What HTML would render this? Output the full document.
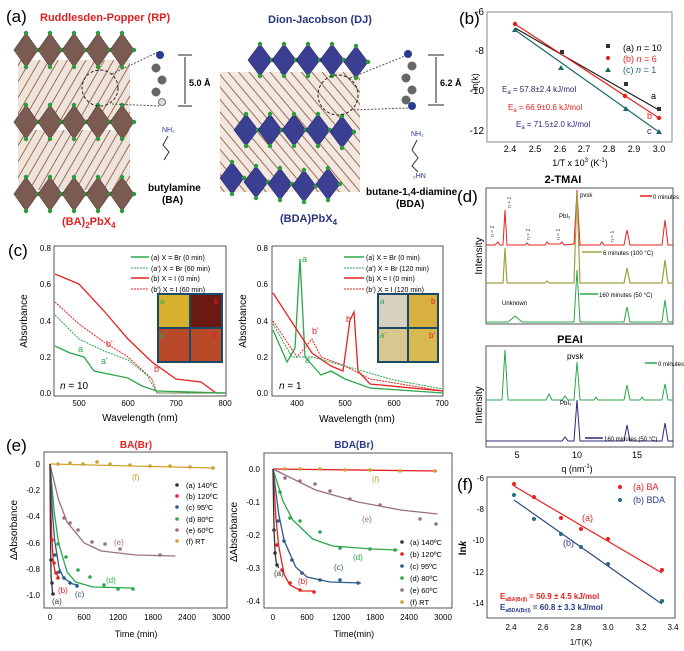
<!DOCTYPE html>
<html><head><meta charset="utf-8"><style>
body{margin:0;background:#fff}
svg{display:block;font-family:"Liberation Sans",sans-serif}
.t{font-size:10px}
</style></head><body>
<svg width="684" height="651" viewBox="0 0 684 651" xmlns="http://www.w3.org/2000/svg">
<defs>
<pattern id="org" width="8" height="8" patternUnits="userSpaceOnUse" patternTransform="rotate(30)">
<rect width="8" height="8" fill="#efe4dc"/><line x1="0" y1="0" x2="0" y2="8" stroke="#9a6e55" stroke-width="2"/></pattern>
<pattern id="org2" width="8" height="8" patternUnits="userSpaceOnUse" patternTransform="rotate(-40)">
<rect width="8" height="8" fill="#f2e8e0"/><line x1="0" y1="0" x2="0" y2="8" stroke="#9a6e55" stroke-width="2"/></pattern>
<g id="oc"><polygon points="0,-17 12,0 0,17 -12,0" fill="#7b5a52" stroke="#4a3630" stroke-width=".6"/><circle cx="0" cy="-17" r="2.2" fill="#2a9a3a"/><circle cx="12" cy="0" r="2.2" fill="#2a9a3a"/><circle cx="0" cy="17" r="2.2" fill="#2a9a3a"/></g>
<g id="ob"><polygon points="0,-16 12,0 0,16 -12,0" fill="#3b3f92" stroke="#22266a" stroke-width=".6"/><circle cx="0" cy="-16" r="2.2" fill="#2a9a3a"/><circle cx="12" cy="0" r="2.2" fill="#2a9a3a"/><circle cx="0" cy="16" r="2.2" fill="#2a9a3a"/></g>
</defs>

<!-- (a) -->
<text x="6" y="22" font-size="17">(a)</text>
<text x="40" y="21" font-size="11" font-weight="bold" fill="#e02020">Ruddlesden-Popper (RP)</text>
<text x="268" y="23" font-size="11" font-weight="bold" fill="#2a3580">Dion-Jacobson (DJ)</text>
<rect x="18" y="60" width="112" height="64" fill="url(#org)"/>
<rect x="18" y="130" width="112" height="60" fill="url(#org)"/>
<g>
<use href="#oc" x="26" y="50"/><use href="#oc" x="50" y="50"/><use href="#oc" x="74" y="50"/><use href="#oc" x="98" y="50"/><use href="#oc" x="122" y="50"/>
<use href="#oc" x="26" y="122"/><use href="#oc" x="50" y="122"/><use href="#oc" x="74" y="122"/><use href="#oc" x="98" y="122"/><use href="#oc" x="122" y="122"/>
<use href="#oc" x="26" y="194"/><use href="#oc" x="50" y="194"/><use href="#oc" x="74" y="194"/><use href="#oc" x="98" y="194"/><use href="#oc" x="122" y="194"/>
</g>
<circle cx="100" cy="88" r="18" fill="none" stroke="#222" stroke-dasharray="3,2"/>
<line x1="112" y1="74" x2="158" y2="52" stroke="#555" stroke-dasharray="2,1.5"/>
<line x1="112" y1="104" x2="160" y2="106" stroke="#555" stroke-dasharray="2,1.5"/>
<g fill="#666"><circle cx="160" cy="55" r="4" fill="#2a3a90"/><circle cx="156" cy="68" r="4.5"/><circle cx="162" cy="80" r="4.5"/><circle cx="156" cy="92" r="4.5"/><circle cx="162" cy="102" r="3.5" fill="#ddd" stroke="#777"/></g>
<line x1="178" y1="55" x2="192" y2="55" stroke="#222"/><line x1="178" y1="106" x2="192" y2="106" stroke="#222"/><line x1="185" y1="57" x2="185" y2="104" stroke="#222"/>
<text x="189" y="86" font-size="9" font-weight="bold">5.0 Å</text>
<text x="162" y="132" font-size="7" fill="#2a3a90">NH₂</text>
<polyline points="168,136 163,145 169,152 164,160" fill="none" stroke="#333"/>
<text x="148" y="191" font-size="10" font-weight="bold">butylamine</text>
<text x="162" y="203" font-size="10" font-weight="bold">(BA)</text>
<text x="62" y="225" font-size="11" font-weight="bold" fill="#e02020">(BA)<tspan font-size="8" dy="3">2</tspan><tspan dy="-3">PbX</tspan><tspan font-size="8" dy="3">4</tspan></text>

<g>
<rect x="220" y="72" width="140" height="120" fill="url(#org2)"/>
<use href="#ob" x="260" y="60"/><use href="#ob" x="284" y="60"/><use href="#ob" x="308" y="60"/><use href="#ob" x="332" y="60"/><use href="#ob" x="356" y="62"/>
<use href="#ob" x="246" y="130"/><use href="#ob" x="270" y="130"/><use href="#ob" x="294" y="130"/><use href="#ob" x="318" y="130"/><use href="#ob" x="342" y="132"/>
<use href="#ob" x="232" y="178"/><use href="#ob" x="256" y="182"/><use href="#ob" x="280" y="184"/><use href="#ob" x="304" y="186"/><use href="#ob" x="328" y="184"/>
</g>
<circle cx="338" cy="95" r="20" fill="none" stroke="#222" stroke-dasharray="3,2"/>
<line x1="350" y1="78" x2="405" y2="56" stroke="#555" stroke-dasharray="2,1.5"/>
<line x1="350" y1="110" x2="408" y2="108" stroke="#555" stroke-dasharray="2,1.5"/>
<g fill="#666"><circle cx="408" cy="54" r="4" fill="#2a3a90"/><circle cx="412" cy="66" r="4.5"/><circle cx="406" cy="78" r="4.5"/><circle cx="412" cy="90" r="4.5"/><circle cx="406" cy="100" r="4.5"/><circle cx="412" cy="106" r="4" fill="#2a3a90"/></g>
<line x1="428" y1="55" x2="444" y2="55" stroke="#222"/><line x1="428" y1="105" x2="444" y2="105" stroke="#222"/><line x1="436" y1="57" x2="436" y2="103" stroke="#222"/>
<text x="440" y="86" font-size="9" font-weight="bold">6.2 Å</text>
<text x="411" y="136" font-size="7" fill="#2a3a90">NH₂</text>
<polyline points="417,140 412,150 418,158 412,166 418,172" fill="none" stroke="#333"/>
<text x="413" y="178" font-size="7" fill="#2a3a90">₂HN</text>
<text x="366" y="195" font-size="10" font-weight="bold">butane-1,4-diamine</text>
<text x="396" y="207" font-size="10" font-weight="bold">(BDA)</text>
<text x="280" y="222" font-size="11" font-weight="bold" fill="#2a3580">(BDA)PbX<tspan font-size="8" dy="3">4</tspan></text>

<!-- (b) -->
<text x="459" y="24" font-size="17">(b)</text>
<rect x="487" y="12" width="185" height="130" fill="none" stroke="#888"/>
<g class="t" font-size="9" text-anchor="end"><text x="484" y="15">-6</text><text x="484" y="54">-8</text><text x="484" y="94">-10</text><text x="484" y="134">-12</text></g>
<g font-size="9" text-anchor="middle"><text x="510" y="152">2.4</text><text x="535" y="152">2.5</text><text x="560" y="152">2.6</text><text x="584" y="152">2.7</text><text x="609" y="152">2.8</text><text x="634" y="152">2.9</text><text x="659" y="152">3.0</text>
<text x="580" y="166">1/T x 10<tspan font-size="6" dy="-4">3</tspan><tspan dy="4"> (K</tspan><tspan font-size="6" dy="-4">-1</tspan><tspan dy="4">)</tspan></text></g>
<text transform="translate(478,82) rotate(-90)" font-size="9" text-anchor="middle">ln(k)</text>
<line x1="515" y1="28" x2="659" y2="110" stroke="#222" stroke-width="1.2"/>
<line x1="515" y1="24" x2="659" y2="118" stroke="#e82020" stroke-width="1.2"/>
<line x1="515" y1="30" x2="659" y2="132" stroke="#1a6a6a" stroke-width="1.2"/>
<rect x="560" y="50" width="4" height="4" fill="#333"/><rect x="624" y="82" width="4" height="4" fill="#333"/><rect x="657" y="107" width="4" height="4" fill="#333"/>
<circle cx="515" cy="24" r="2.2" fill="#e82020"/><circle cx="625" cy="96" r="2.2" fill="#e82020"/><circle cx="659" cy="118" r="2.2" fill="#e82020"/>
<polygon points="515,27 518,32 512,32" fill="#1a6a6a"/><polygon points="561,65 564,70 558,70" fill="#1a6a6a"/><polygon points="626,106 629,111 623,111" fill="#1a6a6a"/><polygon points="659,129 662,134 656,134" fill="#1a6a6a"/>
<rect x="606" y="44" width="4" height="4" fill="#333"/><text x="623" y="51" font-size="9">(a) <tspan font-style="italic">n</tspan> = 10</text>
<circle cx="608" cy="58" r="2" fill="#e82020"/><text x="623" y="62" font-size="9" fill="#e82020">(b) <tspan font-style="italic">n</tspan> = 6</text>
<polygon points="608,67 611,72 605,72" fill="#1a6a6a"/><text x="623" y="73" font-size="9" fill="#1a6a6a">(c) <tspan font-style="italic">n</tspan> = 1</text>
<text x="502" y="92" font-size="8" fill="#2a2a6a">E<tspan font-size="6" dy="2">a</tspan><tspan dy="-2"> = 57.8±2.4 kJ/mol</tspan></text>
<text x="508" y="110" font-size="8" fill="#e82020">E<tspan font-size="6" dy="2">a</tspan><tspan dy="-2"> = 66.9±0.6 kJ/mol</tspan></text>
<text x="516" y="127" font-size="8" fill="#2a2a8a">E<tspan font-size="6" dy="2">a</tspan><tspan dy="-2"> = 71.5±2.0 kJ/mol</tspan></text>
<text x="651" y="99" font-size="9">a</text><text x="647" y="119" font-size="9" fill="#e82020">b</text><text x="647" y="134" font-size="9" fill="#2a2a8a">c</text>

<!-- (d) -->
<text x="563" y="183" font-size="11" font-weight="bold" text-anchor="middle">2-TMAI</text>
<text x="457" y="202" font-size="17">(d)</text>
<rect x="486" y="188" width="187" height="136" fill="none" stroke="#555"/>
<text transform="translate(482,256) rotate(-90)" font-size="10" text-anchor="middle">Intensity</text>
<path d="M486,245 L495,245 L498,242 L500,245 L503,245 L505,210 L507,245 L525,245 L527,243 L529,245 L545,245 L547,242 L549,244 L560,244 L562,242 L564,245 L574,244 L577,190 L580,245 L600,245 L602,242 L604,245 L624,245 L627,230 L630,245 L662,245 L665,220 L668,245 L673,245" fill="none" stroke="#e82020"/>
<path d="M486,283 L503,283 L505,248 L507,283 L545,283 L547,281 L549,283 L574,283 L577,192 L580,283 L624,283 L627,268 L630,283 L662,283 L665,260 L668,283 L673,283" fill="none" stroke="#a0a040" stroke-width="1.2"/>
<path d="M486,322 L508,322 L515,316 L522,322 L574,322 L577,270 L580,322 L624,322 L627,307 L630,322 L662,322 L665,300 L668,322 L673,322" fill="none" stroke="#2aa84a"/>
<line x1="640" y1="196" x2="652" y2="196" stroke="#e82020" stroke-width="1.5"/><text x="653" y="199" font-size="6">0 minutes</text>
<line x1="582" y1="252" x2="602" y2="252" stroke="#a0a040" stroke-width="1.5"/><text x="603" y="255" font-size="6">6 minutes (100 °C)</text>
<line x1="580" y1="294" x2="598" y2="294" stroke="#2aa84a" stroke-width="1.5"/><text x="599" y="297" font-size="6">160 minutes (50 °C)</text>
<text x="580" y="197" font-size="6">pvsk</text><text x="559" y="218" font-size="6">PbI₂</text><text x="502" y="305" font-size="6">Unknown</text>
<g font-size="5" fill="#444"><text transform="translate(494,237) rotate(-90)">n = 2</text><text transform="translate(511,208) rotate(-90)">n = 1</text><text transform="translate(530,240) rotate(-90)">n = 2</text><text transform="translate(560,240) rotate(-90)">n = 1</text><text transform="translate(614,242) rotate(-90)">n = 1</text></g>
<text x="570" y="343" font-size="11" font-weight="bold" text-anchor="middle">PEAI</text>
<rect x="486" y="346" width="187" height="101" fill="none" stroke="#555"/>
<text transform="translate(482,405) rotate(-90)" font-size="10" text-anchor="middle">Intensity</text>
<path d="M486,400 L502,400 L505,350 L508,400 L546,400 L549,394 L552,400 L562,400 L565,396 L568,400 L574,400 L577,362 L580,400 L594,400 L596,397 L598,400 L624,400 L627,385 L630,400 L640,400 L642,397 L644,400 L662,400 L665,384 L668,400 L673,400" fill="none" stroke="#2aa84a"/>
<path d="M486,441 L562,441 L565,437 L568,441 L574,441 L577,400 L580,441 L624,441 L627,425 L630,441 L662,441 L665,423 L668,441 L673,441" fill="none" stroke="#2a2a80"/>
<line x1="645" y1="363" x2="657" y2="363" stroke="#2aa84a" stroke-width="1.5"/><text x="658" y="366" font-size="6">0 minutes</text>
<line x1="585" y1="438" x2="603" y2="438" stroke="#2a2a80" stroke-width="1.5"/><text x="604" y="441" font-size="6">160 minutes (50 °C)</text>
<text x="567" y="359" font-size="8">pvsk</text><text x="560" y="405" font-size="6">PbI₂</text>
<g font-size="9" text-anchor="middle"><text x="517" y="458">5</text><text x="577" y="458">10</text><text x="637" y="458">15</text>
<text x="577" y="472">q (nm<tspan font-size="6" dy="-4">-1</tspan><tspan dy="4">)</tspan></text></g>

<!-- (c) -->
<text x="8" y="256" font-size="17">(c)</text>
<rect x="54" y="246" width="172" height="150" fill="none" stroke="#555"/>
<g font-size="8" text-anchor="end"><text x="51" y="251">0.8</text><text x="51" y="287">0.6</text><text x="51" y="324">0.4</text><text x="51" y="360">0.2</text><text x="51" y="396">0.0</text></g>
<g font-size="8" text-anchor="middle"><text x="79" y="406">500</text><text x="128" y="406">600</text><text x="176" y="406">700</text><text x="225" y="406">800</text></g>
<text x="140" y="421" font-size="10" text-anchor="middle">Wavelength (nm)</text>
<text transform="translate(27,321) rotate(-90)" font-size="10" text-anchor="middle">Absorbance</text>
<path d="M55,274 L79,284 L104,311 L128,339 L152,362 L176,379 L201,382 L216,393 L226,393" fill="none" stroke="#e82020" stroke-width="1.3"/>
<path d="M55,302 L79,324 L104,342 L128,357 L152,379 L157,393 L226,393" fill="none" stroke="#e82020" stroke-dasharray="2,1"/>
<path d="M55,315 L79,339 L104,351 L128,360 L147,375 L157,393 L226,393" fill="none" stroke="#2aa84a" stroke-dasharray="2,1"/>
<path d="M55,346 L70,353 L84,357 L94,371 L128,378 L142,386 L157,391 L226,393" fill="none" stroke="#2aa84a" stroke-width="1.3"/>
<g font-size="7"><line x1="131" y1="257" x2="149" y2="257" stroke="#2aa84a" stroke-width="1.5"/><text x="151" y="260">(a) X = Br (0 min)</text>
<line x1="131" y1="268" x2="149" y2="268" stroke="#2aa84a" stroke-dasharray="2,1"/><text x="151" y="271">(a') X = Br (60 min)</text>
<line x1="131" y1="278" x2="149" y2="278" stroke="#e82020" stroke-width="1.5"/><text x="151" y="281">(b) X = I (0 min)</text>
<line x1="131" y1="289" x2="149" y2="289" stroke="#e82020" stroke-dasharray="2,1"/><text x="151" y="292">(b') X = I (60 min)</text></g>
<rect x="157" y="293" width="66" height="70" fill="#1a4a6a"/>
<rect x="159" y="295" width="30" height="32" fill="#d8b030"/><rect x="191" y="295" width="30" height="32" fill="#6a1a10"/>
<rect x="159" y="329" width="30" height="32" fill="#b84a2a"/><rect x="191" y="329" width="30" height="32" fill="#b84a2a"/>
<text x="160" y="304" font-size="8" fill="#2aa84a">a</text><text x="214" y="304" font-size="8" fill="#e82020">b</text><text x="160" y="338" font-size="8" fill="#2aa84a">a'</text><text x="212" y="338" font-size="8" fill="#e82020">b'</text>
<g font-size="9"><text x="78" y="352" fill="#2aa84a">a</text><text x="101" y="364" fill="#2aa84a">a'</text><text x="106" y="347" fill="#e82020">b'</text><text x="154" y="372" fill="#e82020">b</text><text x="60" y="389" font-size="10"><tspan font-style="italic">n</tspan> = 10</text></g>

<rect x="272" y="246" width="171" height="150" fill="none" stroke="#555"/>
<g font-size="8" text-anchor="end"><text x="268" y="251">0.8</text><text x="268" y="287">0.6</text><text x="268" y="324">0.4</text><text x="268" y="360">0.2</text><text x="268" y="396">0.0</text></g>
<g font-size="8" text-anchor="middle"><text x="297" y="406">400</text><text x="345" y="406">500</text><text x="394" y="406">600</text><text x="442" y="406">700</text></g>
<text x="357" y="422" font-size="10" text-anchor="middle">Wavelength (nm)</text>
<text transform="translate(246,321) rotate(-90)" font-size="10" text-anchor="middle">Absorbance</text>
<path d="M273,330 L287,362 L295,348 L300,259 L305,357 L321,375 L331,371 L345,379 L370,388 L443,393" fill="none" stroke="#2aa84a" stroke-width="1.3"/>
<path d="M273,293 L297,330 L312,353 L331,366 L343,371 L350,320 L354,312 L358,371 L370,384 L443,391" fill="none" stroke="#e82020" stroke-width="1.3"/>
<path d="M273,321 L297,357 L312,339 L321,357 L345,366 L370,379 L443,391" fill="none" stroke="#e82020" stroke-dasharray="2,1"/>
<path d="M273,324 L292,357 L312,357 L345,366 L394,380 L443,389" fill="none" stroke="#2aa84a" stroke-dasharray="2,1"/>
<g font-size="7"><line x1="344" y1="257" x2="364" y2="257" stroke="#2aa84a" stroke-width="1.5"/><text x="366" y="260">(a) X = Br (0 min)</text>
<line x1="344" y1="268" x2="364" y2="268" stroke="#2aa84a" stroke-dasharray="2,1"/><text x="366" y="271">(a') X = Br (120 min)</text>
<line x1="344" y1="278" x2="364" y2="278" stroke="#e82020" stroke-width="1.5"/><text x="366" y="281">(b) X = I (0 min)</text>
<line x1="344" y1="289" x2="364" y2="289" stroke="#e82020" stroke-dasharray="2,1"/><text x="366" y="292">(b') X = I (120 min)</text></g>
<rect x="377" y="293" width="62" height="70" fill="#1a4a6a"/>
<rect x="379" y="295" width="28" height="32" fill="#d8d0c0"/><rect x="409" y="295" width="28" height="32" fill="#d8b040"/>
<rect x="379" y="329" width="28" height="32" fill="#d8c890"/><rect x="409" y="329" width="28" height="32" fill="#d8b850"/>
<text x="380" y="304" font-size="8" fill="#2aa84a">a</text><text x="431" y="304" font-size="8" fill="#e82020">b</text><text x="380" y="338" font-size="8" fill="#2aa84a">a'</text><text x="429" y="338" font-size="8" fill="#e82020">b'</text>
<g font-size="9"><text x="302" y="262" fill="#2aa84a">a</text><text x="305" y="363" fill="#2aa84a">a'</text><text x="312" y="334" fill="#e82020">b'</text><text x="346" y="322" fill="#e82020">b</text><text x="279" y="389" font-size="10"><tspan font-style="italic">n</tspan> = 1</text></g>

<!-- (e) -->
<text x="6" y="451" font-size="17">(e)</text>
<text x="136" y="448" font-size="10" font-weight="bold" fill="#e82020" text-anchor="middle">BA(Br)</text>
<rect x="44" y="452" width="183" height="156" fill="none" stroke="#555"/>
<g font-size="8" text-anchor="end"><text x="40" y="467">0</text><text x="40" y="493">-0.2</text><text x="40" y="519">-0.4</text><text x="40" y="546">-0.6</text><text x="40" y="572">-0.8</text><text x="40" y="598">-1.0</text></g>
<g font-size="8" text-anchor="middle"><text x="50" y="620">0</text><text x="84" y="620">600</text><text x="118" y="620">1200</text><text x="153" y="620">1800</text><text x="187" y="620">2400</text><text x="221" y="620">3000</text></g>
<text x="136" y="637" font-size="9" text-anchor="middle">Time (min)</text>
<text transform="translate(17,530) rotate(-90)" font-size="10" text-anchor="middle">ΔAbsorbance</text>
<polyline points="50,464 215,468" fill="none" stroke="#d0a030" stroke-width="1.3"/>
<polyline points="50,464 58.6,500 67.1,522 84.2,543 101.3,551 135.5,555 175.4,556" fill="none" stroke="#9a7080" stroke-width="1.3"/>
<polyline points="50,464 54.3,513 58.6,543 67.1,572 75.7,582 92.8,587 132.7,588" fill="none" stroke="#2aa84a" stroke-width="1.3"/>
<polyline points="50,464 52.3,511 54.6,540 59.1,568 63.7,578 72.8,584 78.5,585" fill="none" stroke="#2a5a8a" stroke-width="1.3"/>
<polyline points="50,464 50.9,509 51.7,536 53.4,563 55.1,572 58.6,577" fill="none" stroke="#e82020" stroke-width="1.3"/>
<polyline points="50,464 50.3,515 50.6,547 51.1,577 52.8,595" fill="none" stroke="#333" stroke-width="1.3"/>
<g fill="#d0a030"><circle cx="58" cy="464" r="1.8"/><circle cx="70" cy="463" r="1.8"/><circle cx="83" cy="464" r="1.8"/><circle cx="97" cy="462" r="1.8"/><circle cx="110" cy="464" r="1.8"/><circle cx="130" cy="465" r="1.8"/><circle cx="150" cy="466" r="1.8"/><circle cx="170" cy="466" r="1.8"/><circle cx="190" cy="467" r="1.8"/><circle cx="213" cy="468" r="1.8"/></g>
<g fill="#9a7080"><circle cx="64" cy="518" r="1.8"/><circle cx="70" cy="523" r="1.8"/><circle cx="78" cy="530" r="1.8"/><circle cx="92" cy="542" r="1.8"/><circle cx="105" cy="544" r="1.8"/><circle cx="120" cy="549" r="1.8"/><circle cx="160" cy="555" r="1.8"/></g>
<g fill="#2aa84a"><circle cx="58" cy="544" r="1.8"/><circle cx="66" cy="557" r="1.8"/><circle cx="78" cy="570" r="1.8"/><circle cx="90" cy="577" r="1.8"/><circle cx="104" cy="585" r="1.8"/><circle cx="118" cy="589" r="1.8"/><circle cx="133" cy="589" r="1.8"/></g>
<g fill="#2a5a8a"><circle cx="55" cy="555" r="1.8"/><circle cx="59" cy="572" r="1.8"/><circle cx="64" cy="578" r="1.8"/><circle cx="70" cy="583" r="1.8"/><circle cx="77" cy="586" r="1.8"/></g>
<g fill="#e82020"><circle cx="52" cy="540" r="1.8"/><circle cx="54" cy="563" r="1.8"/><circle cx="56" cy="573" r="1.8"/><circle cx="58" cy="578" r="1.8"/></g>
<g fill="#333"><circle cx="51" cy="560" r="1.8"/><circle cx="52" cy="583" r="1.8"/><circle cx="53" cy="594" r="1.8"/></g>
<g font-size="8"><text x="132" y="480" fill="#d0a030">(f)</text><text x="114" y="545" fill="#9a7080">(e)</text><text x="106" y="583" fill="#2aa84a">(d)</text><text x="75" y="597" fill="#2a5a8a">(c)</text><text x="58" y="593" fill="#e82020">(b)</text><text x="52" y="604" fill="#333">(a)</text></g>
<g font-size="7.5"><circle cx="177" cy="485" r="1.8" fill="#333"/><text x="186" y="488">(a) 140ºC</text>
<circle cx="177" cy="496" r="1.8" fill="#e82020"/><text x="186" y="499">(b) 120ºC</text>
<circle cx="177" cy="507" r="1.8" fill="#2a5a8a"/><text x="186" y="510">(c) 95ºC</text>
<circle cx="177" cy="519" r="1.8" fill="#2aa84a"/><text x="186" y="522">(d) 80ºC</text>
<circle cx="177" cy="530" r="1.8" fill="#9a7080"/><text x="186" y="533">(e) 60ºC</text>
<circle cx="177" cy="541" r="1.8" fill="#d0a030"/><text x="186" y="544">(f) RT</text></g>

<text x="354" y="448" font-size="10" font-weight="bold" fill="#2a3a8a" text-anchor="middle">BDA(Br)</text>
<rect x="264" y="453" width="188" height="155" fill="none" stroke="#555"/>
<g font-size="8" text-anchor="end"><text x="260" y="472">0.0</text><text x="260" y="505">-0.1</text><text x="260" y="538">-0.2</text><text x="260" y="571">-0.3</text><text x="260" y="604">-0.4</text></g>
<g font-size="8" text-anchor="middle"><text x="273" y="620">0</text><text x="307" y="620">600</text><text x="341" y="620">1200</text><text x="375" y="620">1800</text><text x="409" y="620">2400</text><text x="443" y="620">3000</text></g>
<text x="354" y="637" font-size="9" text-anchor="middle">Time(min)</text>
<text transform="translate(237,532) rotate(-90)" font-size="10" text-anchor="middle">ΔAbsorbance</text>
<polyline points="273,469 437,471" fill="none" stroke="#e82020" stroke-width="1.3"/>
<polyline points="273,469 315.5,490 358,502 400.6,510 437.4,514" fill="none" stroke="#9a7080" stroke-width="1.3"/>
<polyline points="273,469 282.9,501 292.8,520 312.7,539 332.5,546 372.2,549 397.7,550" fill="none" stroke="#2aa84a" stroke-width="1.3"/>
<polyline points="273,469 278.7,514 284.3,541 295.7,567 307,577 329.7,582 360.9,583" fill="none" stroke="#2a5a8a" stroke-width="1.3"/>
<polyline points="273,469 275.8,517 278.7,546 284.3,575 290,585 301.4,591 315.5,591" fill="none" stroke="#e82020" stroke-width="1.3"/>
<polyline points="273,469 273.6,508 274.1,532 275.3,555 276.4,563 278.7,568" fill="none" stroke="#333" stroke-width="1.3"/>
<g fill="#d0a030"><circle cx="285" cy="469" r="1.8"/><circle cx="300" cy="469" r="1.8"/><circle cx="320" cy="469" r="1.8"/><circle cx="345" cy="470" r="1.8"/><circle cx="370" cy="470" r="1.8"/><circle cx="400" cy="471" r="1.8"/><circle cx="435" cy="471" r="1.8"/></g>
<g fill="#9a7080"><circle cx="285" cy="478" r="1.8"/><circle cx="300" cy="481" r="1.8"/><circle cx="315" cy="484" r="1.8"/><circle cx="330" cy="491" r="1.8"/><circle cx="350" cy="499" r="1.8"/><circle cx="380" cy="505" r="1.8"/><circle cx="420" cy="519" r="1.8"/><circle cx="436" cy="524" r="1.8"/></g>
<g fill="#2aa84a"><circle cx="280" cy="492" r="1.8"/><circle cx="290" cy="518" r="1.8"/><circle cx="300" cy="521" r="1.8"/><circle cx="320" cy="532" r="1.8"/><circle cx="340" cy="548" r="1.8"/><circle cx="370" cy="549" r="1.8"/><circle cx="395" cy="550" r="1.8"/></g>
<g fill="#2a5a8a"><circle cx="278" cy="521" r="1.8"/><circle cx="284" cy="541" r="1.8"/><circle cx="292" cy="560" r="1.8"/><circle cx="302" cy="573" r="1.8"/><circle cx="320" cy="580" r="1.8"/><circle cx="340" cy="580" r="1.8"/><circle cx="358" cy="583" r="1.8"/></g>
<g fill="#e82020"><circle cx="277" cy="545" r="1.8"/><circle cx="282" cy="570" r="1.8"/><circle cx="290" cy="583" r="1.8"/><circle cx="300" cy="590" r="1.8"/><circle cx="314" cy="592" r="1.8"/></g>
<g fill="#333"><circle cx="274" cy="530" r="1.8"/><circle cx="275" cy="553" r="1.8"/><circle cx="277" cy="565" r="1.8"/></g>
<g font-size="8"><text x="372" y="482" fill="#d0a030">(f)</text><text x="362" y="522" fill="#9a7080">(e)</text><text x="353" y="560" fill="#2aa84a">(d)</text><text x="334" y="570" fill="#2a5a8a">(c)</text><text x="298" y="584" fill="#e82020">(b)</text><text x="274" y="576" fill="#333">(a)</text></g>
<g font-size="7.5"><circle cx="402" cy="542" r="1.8" fill="#333"/><text x="410" y="545">(a) 140ºC</text>
<circle cx="402" cy="554" r="1.8" fill="#e82020"/><text x="410" y="557">(b) 120ºC</text>
<circle cx="402" cy="566" r="1.8" fill="#2a5a8a"/><text x="410" y="569">(c) 95ºC</text>
<circle cx="402" cy="578" r="1.8" fill="#2aa84a"/><text x="410" y="581">(d) 80ºC</text>
<circle cx="402" cy="590" r="1.8" fill="#9a7080"/><text x="410" y="593">(e) 60ºC</text>
<circle cx="402" cy="602" r="1.8" fill="#d0a030"/><text x="410" y="605">(f) RT</text></g>

<!-- (f) -->
<text x="457" y="490" font-size="17">(f)</text>
<rect x="487" y="477" width="188" height="141" fill="none" stroke="#555"/>
<g font-size="8" text-anchor="end"><text x="484" y="481">-6</text><text x="484" y="512">-8</text><text x="484" y="543">-10</text><text x="484" y="575">-12</text><text x="484" y="606">-14</text></g>
<g font-size="8" text-anchor="middle"><text x="511" y="630">2.4</text><text x="543" y="630">2.6</text><text x="576" y="630">2.8</text><text x="608" y="630">3.0</text><text x="641" y="630">3.2</text><text x="673" y="630">3.4</text></g>
<text x="581" y="645" font-size="8" text-anchor="middle">1/T(K)</text>
<text transform="translate(466,548) rotate(-90)" font-size="10" font-weight="bold" text-anchor="middle">ln<tspan font-style="italic">k</tspan></text>
<line x1="514" y1="486" x2="662" y2="573" stroke="#e82020" stroke-width="1.2"/>
<line x1="514" y1="500" x2="662" y2="604" stroke="#2a4a80" stroke-width="1.2"/>
<g fill="#e82020"><circle cx="514" cy="484" r="2"/><circle cx="534" cy="497" r="2"/><circle cx="561" cy="518" r="2"/><circle cx="581" cy="529" r="2"/><circle cx="608" cy="539" r="2"/><circle cx="662" cy="570" r="2"/></g>
<g fill="#2a6a80"><circle cx="514" cy="495" r="2"/><circle cx="534" cy="519" r="2"/><circle cx="561" cy="534" r="2"/><circle cx="581" cy="547" r="2"/><circle cx="608" cy="564" r="2"/><circle cx="662" cy="601" r="2"/></g>
<circle cx="620" cy="487" r="2" fill="#e82020"/><text x="633" y="490" font-size="9" fill="#e82020">(a) BA</text>
<circle cx="620" cy="500" r="2" fill="#2a6a80"/><text x="633" y="503" font-size="9" fill="#2a3a8a">(b) BDA</text>
<text x="582" y="521" font-size="9" fill="#e82020">(a)</text><text x="563" y="546" font-size="9" fill="#2a3a8a">(b)</text>
<text x="500" y="599" font-size="8" font-weight="bold" fill="#e82020">E<tspan font-size="5" dy="2">aBA(Br|I)</tspan><tspan dy="-2"> = 50.9 ± 4.5 kJ/mol</tspan></text>
<text x="500" y="610" font-size="8" font-weight="bold" fill="#2a3a8a">E<tspan font-size="5" dy="2">aBDA(Br|I)</tspan><tspan dy="-2"> = 60.8 ± 3.3 kJ/mol</tspan></text>
</svg>
</body></html>
